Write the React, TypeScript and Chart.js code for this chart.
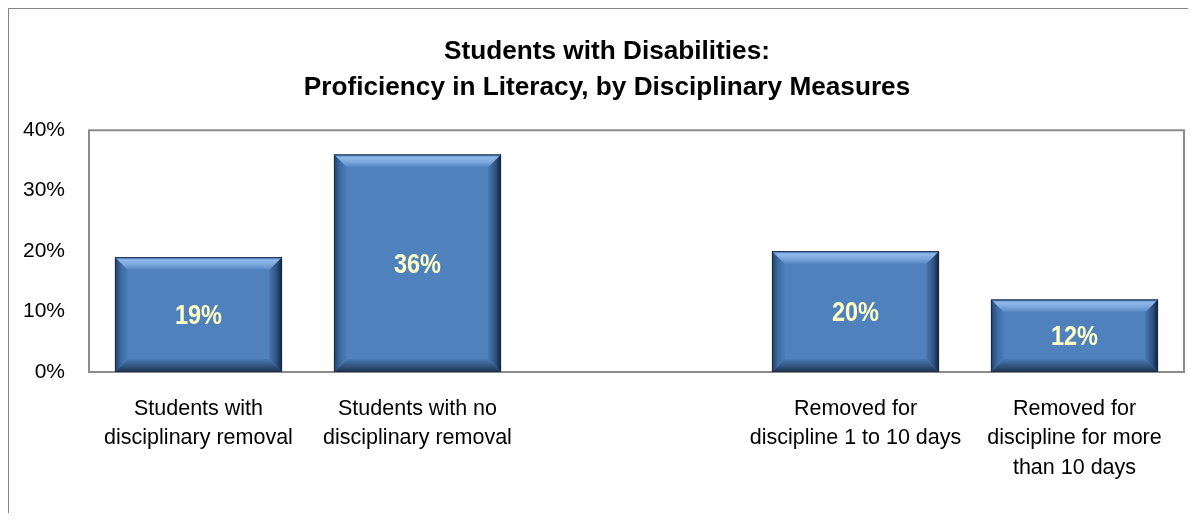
import React, { useEffect, useRef } from "react";
import { Chart, registerables } from "chart.js";

Chart.register(...registerables);

const categories: (string | string[])[] = [
  ["Students with", "disciplinary removal"],
  ["Students with no", "disciplinary removal"],
  "",
  ["Removed for", "discipline 1 to 10 days"],
  ["Removed for", "discipline for more", "than 10 days"],
];
const values: (number | null)[] = [19, 36, null, 20, 12];
const titleLines = ["Students with Disabilities:", "Proficiency in Literacy, by Disciplinary Measures"];
const yMin = 0;
const yMax = 40;
const yStep = 10;

const FONT = '"Liberation Sans", Arial, Helvetica, sans-serif';

const plotFrame = {
  id: "plotFrame",
  afterDatasetsDraw(chart: any) {
    const { ctx, chartArea } = chart;
    ctx.save();
    ctx.strokeStyle = "#8c8c8c";
    ctx.lineWidth = 2;
    ctx.strokeRect(chartArea.left, chartArea.top, chartArea.right - chartArea.left, chartArea.bottom - chartArea.top);
    ctx.restore();
  },
};

const bevelBars = {
  id: "bevelBars",
  afterDatasetsDraw(chart: any) {
    const { ctx } = chart;
    const meta = chart.getDatasetMeta(0);
    const data = chart.data.datasets[0].data;
    meta.data.forEach((el: any, i: number) => {
      const v = data[i];
      if (v === null || v === undefined) return;
      const p = el.getProps(["x", "y", "base", "width"], true);
      const l = p.x - p.width / 2;
      const r = p.x + p.width / 2;
      const t = Math.min(p.y, p.base);
      const bo = Math.max(p.y, p.base);
      const b = Math.min(13, (bo - t) / 2);
      ctx.save();
      // top bevel
      let g = ctx.createLinearGradient(0, t, 0, t + b);
      g.addColorStop(0, "#5387c6");
      g.addColorStop(0.25, "#90b8ec");
      g.addColorStop(0.6, "#7ba6dc");
      g.addColorStop(1, "#5183c0");
      ctx.fillStyle = g;
      ctx.beginPath();
      ctx.moveTo(l, t); ctx.lineTo(r, t); ctx.lineTo(r - b, t + b); ctx.lineTo(l + b, t + b); ctx.closePath();
      ctx.fill();
      // bottom bevel
      g = ctx.createLinearGradient(0, bo - b, 0, bo);
      g.addColorStop(0, "#4a7bb5");
      g.addColorStop(1, "#1d3453");
      ctx.fillStyle = g;
      ctx.beginPath();
      ctx.moveTo(l, bo); ctx.lineTo(r, bo); ctx.lineTo(r - b, bo - b); ctx.lineTo(l + b, bo - b); ctx.closePath();
      ctx.fill();
      // left bevel
      g = ctx.createLinearGradient(l, 0, l + b, 0);
      g.addColorStop(0, "#23406a");
      g.addColorStop(0.5, "#3e6ca4");
      g.addColorStop(1, "#4c7db9");
      ctx.fillStyle = g;
      ctx.beginPath();
      ctx.moveTo(l, t); ctx.lineTo(l + b, t + b); ctx.lineTo(l + b, bo - b); ctx.lineTo(l, bo); ctx.closePath();
      ctx.fill();
      // right bevel
      g = ctx.createLinearGradient(r - b, 0, r, 0);
      g.addColorStop(0, "#4a78ad");
      g.addColorStop(0.6, "#2d5080");
      g.addColorStop(1, "#10203a");
      ctx.fillStyle = g;
      ctx.beginPath();
      ctx.moveTo(r, t); ctx.lineTo(r - b, t + b); ctx.lineTo(r - b, bo - b); ctx.lineTo(r, bo); ctx.closePath();
      ctx.fill();
      // outline
      ctx.strokeStyle = "#1b2b40";
      ctx.lineWidth = 1;
      ctx.strokeRect(l + 0.5, t + 0.5, r - l - 1, bo - t - 1);
      // label (condensed bold)
      ctx.translate(p.x, (t + bo) / 2 + 2);
      ctx.scale(0.84, 1);
      ctx.fillStyle = "#FFFFC6";
      ctx.font = `bold 28px ${FONT}`;
      ctx.textAlign = "center";
      ctx.textBaseline = "middle";
      ctx.fillText(`${v}%`, 0, 0);
      ctx.restore();
    });
  },
};

export default function App() {
  const canvasRef = useRef<HTMLCanvasElement | null>(null);

  useEffect(() => {
    const canvas = canvasRef.current;
    if (!canvas) return;
    const chart = new Chart(canvas, {
      type: "bar",
      data: {
        labels: categories,
        datasets: [
          {
            data: values,
            backgroundColor: "#4F81BD",
            borderWidth: 0,
            barPercentage: 0.763,
            categoryPercentage: 1,
            yAxisID: "y",
          },
        ],
      },
      options: {
        responsive: false,
        animation: false,
        layout: { padding: { left: 0, right: 21, top: 0, bottom: 0 } },
        plugins: {
          legend: { display: false },
          tooltip: { enabled: false },
          title: {
            display: true,
            text: titleLines,
            color: "#000",
            font: { family: FONT, size: 26.2, weight: "bold", lineHeight: 1.36 },
            padding: { top: 25, bottom: 25 },
          },
        },
        scales: {
          x: {
            grid: { display: false, drawTicks: false },
            border: { display: false },
            ticks: {
              color: "#000",
              font: { family: FONT, size: 21.5, lineHeight: 1.37 },
              padding: 22,
              maxRotation: 0,
              autoSkip: false,
            },
            afterFit: (scale: any) => {
              scale.height = 140;
            },
          },
          y: {
            min: yMin,
            max: yMax,
            grid: { display: false, drawTicks: false },
            border: { display: false },
            ticks: {
              stepSize: yStep,
              color: "#000",
              font: { family: FONT, size: 21 },
              padding: 24,
              callback: (v: any) => `${v}%`,
            },
            afterFit: (scale: any) => {
              scale.width = 80;
            },
          },
          yRight: {
            position: "right",
            min: yMin,
            max: yMax,
            grid: { display: false, drawTicks: false },
            border: { display: false },
            ticks: { display: false },
            afterFit: (scale: any) => {
              scale.width = 21;
            },
          },
        },
      },
      plugins: [plotFrame, bevelBars],
    });
    return () => chart.destroy();
  }, []);

  return (
    <div
      style={{
        width: 1187,
        height: 512,
        marginBottom: -8,
        overflow: "hidden",
        borderTop: "1px solid #858585",
        borderLeft: "1px solid #858585",
        background: "#fff",
      }}
    >
      <canvas ref={canvasRef} width={1217} height={503} style={{ display: "block" }} />
    </div>
  );
}
